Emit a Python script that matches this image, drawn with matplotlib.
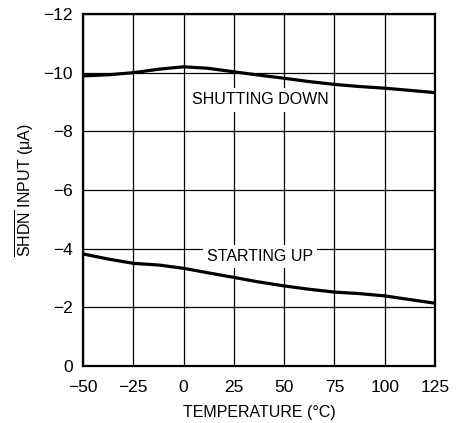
import numpy as np
import matplotlib
matplotlib.use('Agg')
import matplotlib.pyplot as plt

# font setup - narrow sans to look like the datasheet
plt.rcParams['font.family'] = ['Liberation Sans Narrow', 'Liberation Sans', 'DejaVu Sans']
plt.rcParams['mathtext.fontset'] = 'custom'
plt.rcParams['mathtext.rm'] = 'Liberation Sans'
plt.rcParams['mathtext.it'] = 'Liberation Sans:italic'

# data
temp = [-50, -37, -25, -12, 0, 12, 25, 37, 50, 62, 75, 87, 100, 112, 125]
shutting_down = [-9.89, -9.93, -10.0, -10.12, -10.2, -10.15, -10.03, -9.92, -9.81, -9.7, -9.6, -9.53, -9.47, -9.4, -9.32]
starting_up = [-3.82, -3.64, -3.5, -3.44, -3.33, -3.18, -3.02, -2.87, -2.73, -2.62, -2.52, -2.47, -2.39, -2.27, -2.14]

x_ticks = [-50, -25, 0, 25, 50, 75, 100, 125]
y_ticks = [0, -2, -4, -6, -8, -10, -12]

fig = plt.figure(figsize=(4.64, 4.23), dpi=100)
ax = fig.add_axes([83/464, 1 - 366/423, 352/464, 352/423])

ax.plot(temp, shutting_down, color='black', lw=2.3, zorder=3)
ax.plot(temp, starting_up, color='black', lw=2.3, zorder=3)

ax.set_xlim(-50, 125)
ax.set_ylim(0, -12)
ax.set_xticks(x_ticks)
ax.set_yticks(y_ticks)
ax.set_xticklabels([str(t).replace('-', '\u2212') for t in x_ticks], fontsize=12.5)
ax.set_yticklabels([str(t).replace('-', '\u2212') for t in y_ticks], fontsize=12.5)
ax.tick_params(axis='x', length=0, pad=10)
ax.tick_params(axis='y', length=0, pad=7.5)
ax.grid(True, color='black', lw=0.9)
for s in ax.spines.values():
    s.set_linewidth(1.6)

# curve labels with white boxes cutting the grid
ax.text(38, -9.07, 'SHUTTING DOWN', ha='center', va='center', fontsize=11.5,
        bbox=dict(facecolor='white', edgecolor='none', pad=3), zorder=4)
ax.text(38, -3.73, 'STARTING UP', ha='center', va='center', fontsize=11.5,
        bbox=dict(facecolor='white', edgecolor='none', pad=3), zorder=4)

ax.set_xlabel('TEMPERATURE (\u00b0C)', fontsize=11.5, labelpad=7)
ax.set_ylabel(r'$\overline{\mathrm{SHDN}}$ INPUT ($\mathrm{\mu}$A)', fontsize=11.5, labelpad=5)

fig.savefig('out.png', dpi=100)
